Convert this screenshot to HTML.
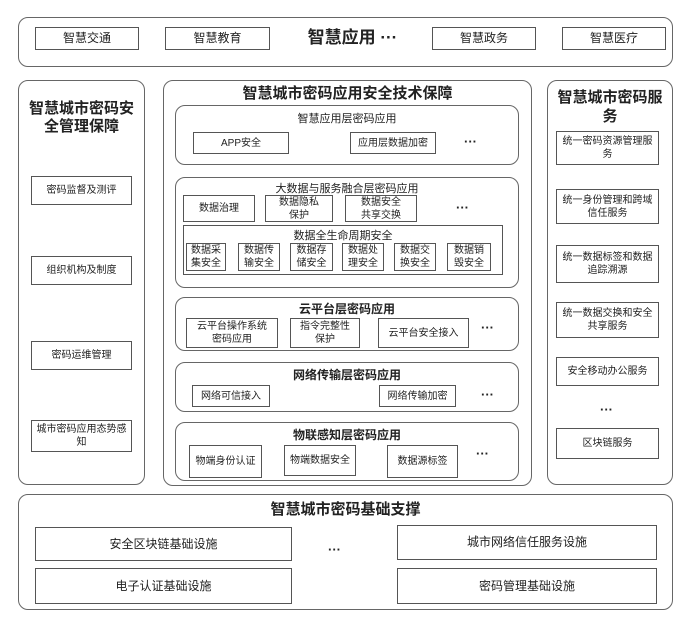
<!DOCTYPE html>
<html><head><meta charset="utf-8"><style>
body{margin:0;background:#fff;width:690px;height:621px;position:relative;overflow:hidden;font-family:"Liberation Sans","Noto Sans CJK SC",sans-serif;color:#222}
div{position:absolute;box-sizing:border-box}
.r{border:1.5px solid #666;border-radius:10px}
.b{border:1.5px solid #555;display:flex;align-items:center;justify-content:center;text-align:center;font-size:10px;line-height:13px;background:#fff}
.t{text-align:center;font-weight:bold;white-space:nowrap}
.d{font-weight:bold;font-size:13px}
</style></head><body>
<div class="r" style="left:18px;top:17px;width:655px;height:50px"></div>
<div class="b" style="left:35px;top:27px;width:104px;height:23px;font-size:12px">智慧交通</div>
<div class="b" style="left:165px;top:27px;width:105px;height:23px;font-size:12px">智慧教育</div>
<div class="t" style="left:290px;top:27px;width:125px;font-size:17px;line-height:22px">智慧应用 ···</div>
<div class="b" style="left:432px;top:27px;width:104px;height:23px;font-size:12px">智慧政务</div>
<div class="b" style="left:562px;top:27px;width:104px;height:23px;font-size:12px">智慧医疗</div>

<div class="r" style="left:18px;top:80px;width:127px;height:405px"></div>
<div class="t" style="left:18px;top:100px;width:127px;font-size:15px;line-height:18px;white-space:normal;padding:0 6px">智慧城市密码安全管理保障</div>
<div class="b" style="left:31px;top:176px;width:101px;height:29px">密码监督及测评</div>
<div class="b" style="left:31px;top:256px;width:101px;height:29px">组织机构及制度</div>
<div class="b" style="left:31px;top:341px;width:101px;height:29px">密码运维管理</div>
<div class="b" style="left:31px;top:420px;width:101px;height:32px;padding:0 4px">城市密码应用态势感知</div>

<div class="r" style="left:163px;top:80px;width:369px;height:406px"></div>
<div class="t" style="left:163px;top:85px;width:369px;font-size:15px;line-height:18px">智慧城市密码应用安全技术保障</div>
<div class="r" style="left:175px;top:105px;width:344px;height:60px"></div>
<div class="t" style="left:175px;top:110px;width:344px;font-size:11px;font-weight:normal">智慧应用层密码应用</div>
<div class="b" style="left:193px;top:132px;width:96px;height:22px">APP安全</div>
<div class="b" style="left:350px;top:132px;width:86px;height:22px">应用层数据加密</div>
<div class="d" style="left:464px;top:134px">···</div>

<div class="r" style="left:175px;top:177px;width:344px;height:111px"></div>
<div class="t" style="left:175px;top:180px;width:344px;font-size:11px;font-weight:normal">大数据与服务融合层密码应用</div>
<div class="b" style="left:183px;top:195px;width:72px;height:27px">数据治理</div>
<div class="b" style="left:265px;top:195px;width:68px;height:27px">数据隐私<br>保护</div>
<div class="b" style="left:345px;top:195px;width:72px;height:27px">数据安全<br>共享交换</div>
<div class="d" style="left:456px;top:200px">···</div>
<div style="left:183px;top:225px;width:320px;height:50px;border:1.5px solid #555"></div>
<div class="t" style="left:183px;top:227px;width:320px;font-size:11px;font-weight:normal">数据全生命周期安全</div>
<div class="b" style="left:186px;top:243px;width:40px;height:28px">数据采<br>集安全</div>
<div class="b" style="left:238px;top:243px;width:42px;height:28px">数据传<br>输安全</div>
<div class="b" style="left:290px;top:243px;width:43px;height:28px">数据存<br>储安全</div>
<div class="b" style="left:342px;top:243px;width:42px;height:28px">数据处<br>理安全</div>
<div class="b" style="left:394px;top:243px;width:42px;height:28px">数据交<br>换安全</div>
<div class="b" style="left:447px;top:243px;width:44px;height:28px">数据销<br>毁安全</div>

<div class="r" style="left:175px;top:297px;width:344px;height:54px"></div>
<div class="t" style="left:175px;top:300px;width:344px;font-size:12px">云平台层密码应用</div>
<div class="b" style="left:186px;top:318px;width:92px;height:30px">云平台操作系统<br>密码应用</div>
<div class="b" style="left:290px;top:318px;width:70px;height:30px">指令完整性<br>保护</div>
<div class="b" style="left:378px;top:318px;width:91px;height:30px">云平台安全接入</div>
<div class="d" style="left:481px;top:320px">···</div>

<div class="r" style="left:175px;top:362px;width:344px;height:50px"></div>
<div class="t" style="left:175px;top:366px;width:344px;font-size:12px">网络传输层密码应用</div>
<div class="b" style="left:192px;top:385px;width:78px;height:22px">网络可信接入</div>
<div class="b" style="left:379px;top:385px;width:77px;height:22px">网络传输加密</div>
<div class="d" style="left:481px;top:387px">···</div>

<div class="r" style="left:175px;top:422px;width:344px;height:59px"></div>
<div class="t" style="left:175px;top:426px;width:344px;font-size:12px">物联感知层密码应用</div>
<div class="b" style="left:189px;top:445px;width:73px;height:33px">物端身份认证</div>
<div class="b" style="left:284px;top:445px;width:72px;height:31px">物端数据安全</div>
<div class="b" style="left:387px;top:445px;width:71px;height:33px">数据源标签</div>
<div class="d" style="left:476px;top:446px">···</div>

<div class="r" style="left:547px;top:80px;width:126px;height:405px"></div>
<div class="t" style="left:547px;top:88px;width:126px;font-size:15px;line-height:19px;white-space:normal;padding:0 4px">智慧城市密码服务</div>
<div class="b" style="left:556px;top:131px;width:103px;height:34px;padding:0 3px">统一密码资源管理服务</div>
<div class="b" style="left:556px;top:189px;width:103px;height:35px;padding:0 3px">统一身份管理和跨域信任服务</div>
<div class="b" style="left:556px;top:245px;width:103px;height:38px;padding:0 3px">统一数据标签和数据追踪溯源</div>
<div class="b" style="left:556px;top:302px;width:103px;height:36px;padding:0 3px">统一数据交换和安全共享服务</div>
<div class="b" style="left:556px;top:357px;width:103px;height:29px">安全移动办公服务</div>
<div class="d" style="left:600px;top:402px">···</div>
<div class="b" style="left:556px;top:428px;width:103px;height:31px">区块链服务</div>

<div class="r" style="left:18px;top:494px;width:655px;height:116px"></div>
<div class="t" style="left:18px;top:500px;width:655px;font-size:15px;line-height:20px">智慧城市密码基础支撑</div>
<div class="b" style="left:35px;top:527px;width:257px;height:34px;font-size:12px">安全区块链基础设施</div>
<div class="b" style="left:397px;top:525px;width:260px;height:35px;font-size:12px">城市网络信任服务设施</div>
<div class="b" style="left:35px;top:568px;width:257px;height:36px;font-size:12px">电子认证基础设施</div>
<div class="b" style="left:397px;top:568px;width:260px;height:36px;font-size:12px">密码管理基础设施</div>
<div class="d" style="left:328px;top:542px">···</div>
</body></html>
